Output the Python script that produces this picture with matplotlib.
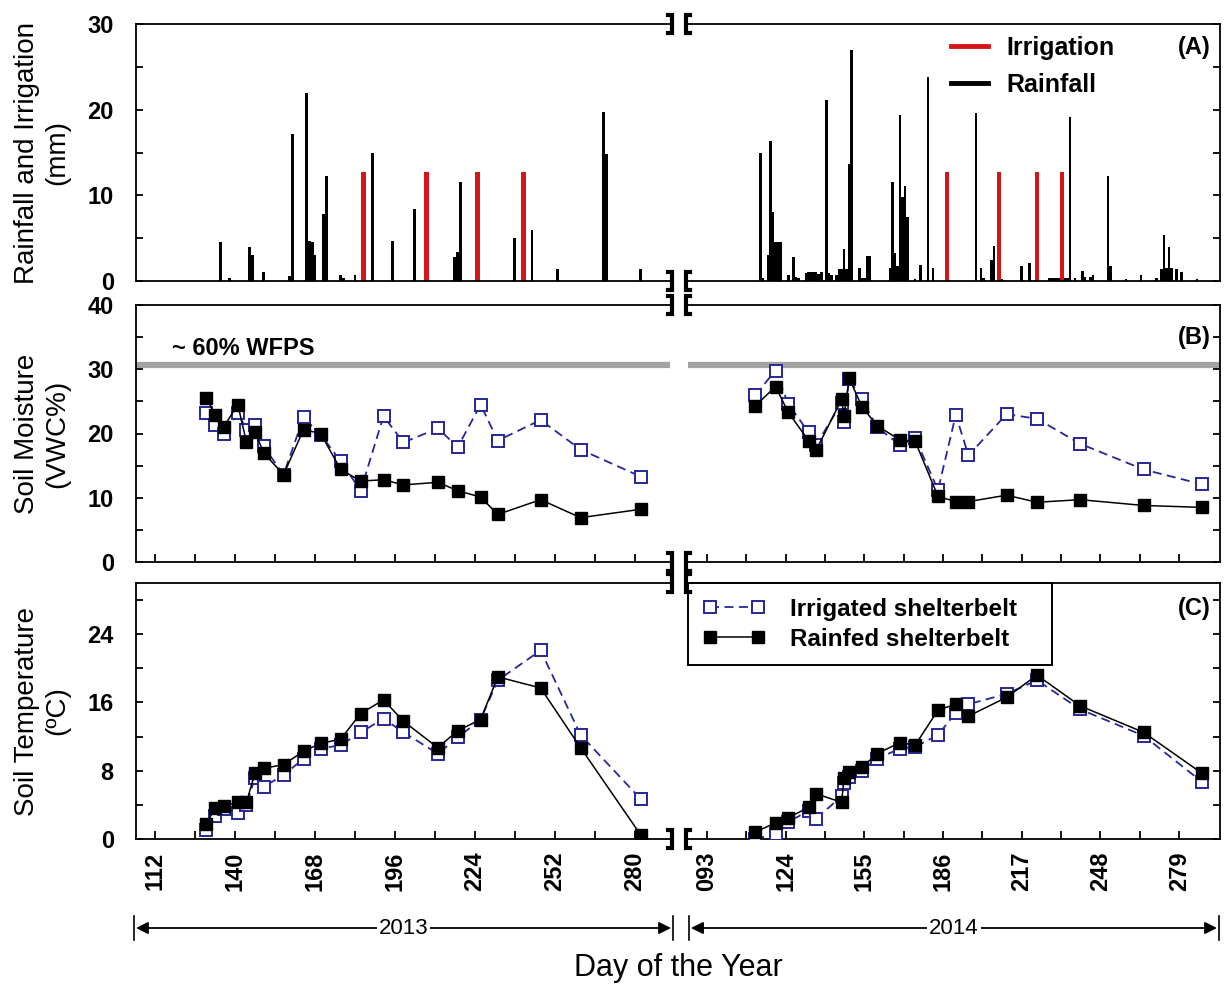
import matplotlib
matplotlib.use('Agg')
import matplotlib.pyplot as plt
from matplotlib.ticker import FixedLocator, MultipleLocator
from matplotlib.lines import Line2D

plt.rcParams['font.family'] = ['Liberation Sans', 'DejaVu Sans']

# ---------------- data ----------------
rain13_day = [135, 138, 145, 146, 150, 159, 160, 165, 166, 167, 168, 171, 172, 177, 178,
              182, 188, 195, 203, 217, 218, 219, 238, 244, 253, 269, 270, 282]
rain13_mm = [4.6, 0.4, 4.0, 3.0, 1.0, 0.6, 17.2, 22.0, 4.7, 4.6, 3.0, 7.8, 12.2, 0.7, 0.4,
             0.7, 15.0, 4.7, 8.4, 2.8, 3.4, 11.6, 5.0, 5.9, 1.4, 19.7, 14.8, 1.4]
irr13_day = [185, 207, 225, 241]
irr13_mm = [12.7, 12.7, 12.7, 12.7]

rain14_day = [114, 115, 117, 118, 119, 120, 121, 122, 125, 127, 128, 129,
              132, 133, 134, 135, 136, 137, 138, 140, 141, 142, 144, 145, 146, 147, 148, 149, 150,
              153, 154, 155, 156, 157, 165, 166, 167, 168, 169, 170, 171, 172,
              175, 177, 180, 182, 199, 201, 202, 205, 206, 209, 217, 220,
              228, 229, 230, 231, 232, 233, 234, 235, 236, 238, 241, 242, 244, 245,
              251, 252, 258, 264, 270, 272, 273, 274, 275, 276, 278, 280, 286]
rain14_mm = [15.0, 0.3, 3.0, 16.4, 8.0, 4.6, 4.6, 4.6, 0.7, 2.8, 0.5, 0.3,
             0.9, 1.1, 1.0, 1.1, 1.0, 0.8, 1.0, 21.1, 0.9, 0.7, 0.7, 1.4, 1.4, 3.7, 1.4, 13.6, 27.0,
             1.5, 0.3, 0.3, 2.9, 2.9, 1.5, 11.5, 3.3, 1.7, 19.4, 9.8, 11.1, 7.5,
             0.2, 1.9, 23.8, 1.5, 19.6, 1.5, 0.3, 2.4, 4.1, 0.2, 1.75, 2.1,
             0.4, 0.4, 0.4, 0.4, 0.4, 0.4, 0.4, 0.4, 19.2, 0.4, 1.2, 0.5, 0.5, 0.7,
             12.2, 1.75, 0.2, 0.7, 0.3, 1.4, 5.4, 1.5, 4.0, 1.5, 1.4, 1.0, 0.2]
irr14_day = [187.5, 208, 223, 233]
irr14_mm = [12.7, 12.7, 12.7, 12.7]

days13 = [130, 133, 136, 141, 144, 147, 150, 157, 164, 170, 177, 184, 192, 199, 211, 218,
          226, 232, 247, 261, 282]
sm13_irr = [23.2, 21.3, 20.0, 23.2, 20.6, 21.4, 18.0, 13.6, 22.5, 19.8, 15.7, 11.1, 22.7, 18.6,
            20.8, 17.9, 24.5, 18.9, 22.1, 17.5, 13.3]
sm13_rf = [25.6, 22.9, 21.0, 24.5, 18.7, 20.3, 17.0, 13.6, 20.6, 20.0, 14.4, 12.6, 12.8, 12.0,
           12.4, 11.1, 10.1, 7.4, 9.7, 6.9, 8.2]
st13_irr = [1.0, 2.7, 3.5, 3.0, 4.0, 7.2, 6.1, 7.5, 9.4, 10.6, 11.0, 12.5, 14.1, 12.5, 10.0,
            11.9, 14.0, 18.6, 22.1, 12.2, 4.7]
st13_rf = [1.8, 3.6, 3.9, 4.3, 4.3, 7.7, 8.3, 8.7, 10.3, 11.2, 11.7, 14.7, 16.3, 13.8, 10.7,
           12.7, 14.0, 19.0, 17.7, 10.7, 0.5]

days14 = [112, 120, 125, 133, 136, 146, 147, 149, 154, 160, 169, 175, 184, 191, 196, 211,
          223, 240, 265, 288]
sm14_irr = [26.0, 29.8, 24.6, 20.2, 18.2, 24.8, 21.8, 28.5, 25.3, 21.0, 18.2, 19.3, 11.2, 22.9,
            16.6, 23.0, 22.3, 18.4, 14.4, 12.1]
sm14_rf = [24.3, 27.3, 23.3, 18.9, 17.4, 25.3, 22.8, 28.6, 24.2, 21.2, 19.0, 18.8, 10.2, 9.4,
           9.4, 10.4, 9.3, 9.7, 8.8, 8.5]
st14_irr = [0.0, 0.6, 2.0, 3.3, 2.4, 5.0, 6.6, 7.3, 8.0, 9.4, 10.6, 10.8, 12.2, 14.8, 15.8,
            17.0, 18.6, 15.2, 12.1, 6.7]
st14_rf = [0.8, 1.9, 2.5, 3.7, 5.3, 4.3, 7.2, 7.8, 8.4, 10.0, 11.3, 11.0, 15.1, 15.8, 14.4,
           16.6, 19.2, 15.6, 12.5, 7.7]

wfps_level = 30.6

xt13 = [112, 140, 168, 196, 224, 252, 280]
xt13_lab = ['112', '140', '168', '196', '224', '252', '280']
xt13_minor = [126, 154, 182, 210, 238, 266]
xt14 = [93, 124, 155, 186, 217, 248, 279]
xt14_lab = ['093', '124', '155', '186', '217', '248', '279']
xt14_minor = [108.5, 139.5, 170.5, 201.5, 232.5, 263.5]

ylab_a = 'Rainfall and Irrigation\n(mm)'
ylab_b = 'Soil Moisture\n(VWC%)'
ylab_c = 'Soil Temperature\n(ºC)'

# ---------------- layout ----------------
W, H = 1225, 984
fig = plt.figure(figsize=(W / 100, H / 100), dpi=100)


def rect(x0, y0, x1, y1):
    return [x0 / W, 1 - y1 / H, (x1 - x0) / W, (y1 - y0) / H]


LX = (136, 670)
RX = (688, 1220)
rows = [(24, 281), (305, 562), (583, 839)]
XL13 = (105.35, 292.3)
XL14 = (85.5, 295.1)

TICKFS = 17
BLUE = '#26269a'
RED = '#d41616'

pairs = []
for (t, b) in rows:
    aL = fig.add_axes(rect(LX[0], t, LX[1], b))
    aR = fig.add_axes(rect(RX[0], t, RX[1], b))
    pairs.append((aL, aR))

ylims = [(0, 30), (0, 40), (0, 30)]
ymaj = [10, 10, 8]
ymin = [5, 5, 4]
for i, (aL, aR) in enumerate(pairs):
    aL.set_xlim(*XL13)
    aR.set_xlim(*XL14)
    aL.spines['right'].set_visible(False)
    aR.spines['left'].set_visible(False)
    for a in (aL, aR):
        for s in a.spines.values():
            s.set_linewidth(1.3)
        a.set_ylim(*ylims[i])
        a.yaxis.set_major_locator(MultipleLocator(ymaj[i]))
        a.yaxis.set_minor_locator(MultipleLocator(ymin[i]))
    aL.tick_params(axis='y', which='both', left=True, right=False, direction='in',
                   length=5, width=1.3, labelsize=TICKFS, pad=16)
    for lab in aL.get_yticklabels():
        lab.set_fontweight('bold')
    aR.tick_params(axis='y', which='both', left=False, right=True, labelleft=False,
                   labelright=False, direction='in', length=5, width=1.3)
    if i == 0:
        for a in (aL, aR):
            a.tick_params(axis='x', which='both', bottom=False, top=False, labelbottom=False)
    else:
        for a, maj, mino, lab in ((aL, xt13, xt13_minor, xt13_lab), (aR, xt14, xt14_minor, xt14_lab)):
            a.xaxis.set_major_locator(FixedLocator(maj))
            a.xaxis.set_minor_locator(FixedLocator(mino))
            a.tick_params(axis='x', which='both', bottom=True, top=False, direction='in',
                          length=6, width=1.3, pad=9)
            if i == 2:
                a.set_xticklabels(lab, rotation=90, fontsize=TICKFS, fontweight='bold')
            else:
                a.tick_params(axis='x', labelbottom=False)

# ---- panel A ----
aL, aR = pairs[0]
for a, rd, rm, idy, im in ((aL, rain13_day, rain13_mm, irr13_day, irr13_mm),
                           (aR, rain14_day, rain14_mm, irr14_day, irr14_mm)):
    a.bar(rd, rm, width=1.0, color='black', linewidth=0)
    a.bar(idy, im, width=1.6, color=RED, linewidth=0)
leg_handles = [Line2D([], [], color=RED, lw=3.5), Line2D([], [], color='black', lw=3.5)]
aR.legend(leg_handles, ['Irrigation', 'Rainfall'], loc='upper left', bbox_to_anchor=(0.452, 1.04),
          frameon=False, prop={'weight': 'bold', 'size': 18}, handlelength=1.5,
          handletextpad=0.7, labelspacing=0.5)
aR.text(0.982, 0.955, '(A)', transform=aR.transAxes, ha='right', va='top',
        fontsize=17, fontweight='bold')

# ---- panel B ----
aL, aR = pairs[1]
for a, d, irr, rf in ((aL, days13, sm13_irr, sm13_rf), (aR, days14, sm14_irr, sm14_rf)):
    a.axhline(wfps_level, color='#a3a3a3', lw=4.5, zorder=1)
    a.plot(d, irr, ls=(0, (5, 3)), color=BLUE, lw=1.3, marker='s', ms=8.5, mfc='white',
           mec=BLUE, mew=1.4, zorder=3)
    a.plot(d, rf, ls='-', color='black', lw=1.1, marker='s', ms=8.5, mfc='black',
           mec='black', zorder=4)
aL.text(0.067, 0.83, '~ 60% WFPS', transform=aL.transAxes, ha='left', va='center',
        fontsize=17, fontweight='bold')
aR.text(0.982, 0.92, '(B)', transform=aR.transAxes, ha='right', va='top',
        fontsize=17, fontweight='bold')

# ---- panel C ----
aL, aR = pairs[2]
for a, d, irr, rf in ((aL, days13, st13_irr, st13_rf), (aR, days14, st14_irr, st14_rf)):
    l1, = a.plot(d, irr, ls=(0, (5, 3)), color=BLUE, lw=1.3, marker='s', ms=8.5, mfc='white',
                 mec=BLUE, mew=1.4, zorder=3)
    l2, = a.plot(d, rf, ls='-', color='black', lw=1.1, marker='s', ms=8.5, mfc='black',
                 mec='black', zorder=4)
legc = aR.legend([l1, l2], ['Irrigated shelterbelt   ', 'Rainfed shelterbelt'], loc='upper left',
                 bbox_to_anchor=(0.0, 1.0), numpoints=2, handlelength=2.6, fancybox=False,
                 framealpha=1, edgecolor='black', prop={'weight': 'bold', 'size': 17.5},
                 borderaxespad=0.0, borderpad=0.6, labelspacing=0.3, handletextpad=1.0)
legc.get_frame().set_linewidth(1.4)
aR.text(0.982, 0.945, '(C)', transform=aR.transAxes, ha='right', va='top',
        fontsize=17, fontweight='bold')

# ---------------- overlay decorations ----------------
ov = fig.add_axes([0, 0, 1, 1], zorder=10)
ov.set_xlim(0, W)
ov.set_ylim(H, 0)
ov.axis('off')
ov.patch.set_alpha(0)

for (t, b) in rows:
    for y in (t, b):
        # "]" at right end of left axes
        ov.plot([LX[1] - 2, LX[1] + 2, LX[1] + 2, LX[1] - 2], [y - 9, y - 9, y + 9, y + 9],
                color='black', lw=3, solid_joinstyle='miter')
        # "[" at left end of right axes
        ov.plot([RX[0] + 2, RX[0] - 2, RX[0] - 2, RX[0] + 2], [y - 9, y - 9, y + 9, y + 9],
                color='black', lw=3, solid_joinstyle='miter')

# y labels
for (t, b), lab in zip(rows, (ylab_a, ylab_b, ylab_c)):
    fig.text(42 / W, 1 - (t + b) / 2 / H, lab, rotation=90, ha='center', va='center',
             fontsize=20, multialignment='center', linespacing=1.2)

# year arrows
ya = 928
for (x0, x1, yr) in ((LX[0] - 2, LX[1] + 3, '2013'), (RX[0] + 1, RX[1] - 1, '2014')):
    ov.plot([x0, x0], [ya - 12, ya + 12], color='black', lw=1.2)
    ov.plot([x1, x1], [ya - 12, ya + 12], color='black', lw=1.2)
    ov.annotate('', xy=(x0 + 2, ya), xytext=(x1 - 2, ya),
                arrowprops=dict(arrowstyle='<|-|>', color='black', lw=1.3,
                                mutation_scale=18, shrinkA=0, shrinkB=0))
    ov.text((x0 + x1) / 2, ya, yr, ha='center', va='center', fontsize=16,
            bbox=dict(facecolor='white', edgecolor='none', pad=1.5))

fig.text(678 / W, 1 - 968 / H, 'Day of the Year', ha='center', va='center', fontsize=22)

fig.savefig('out.png', dpi=100)
